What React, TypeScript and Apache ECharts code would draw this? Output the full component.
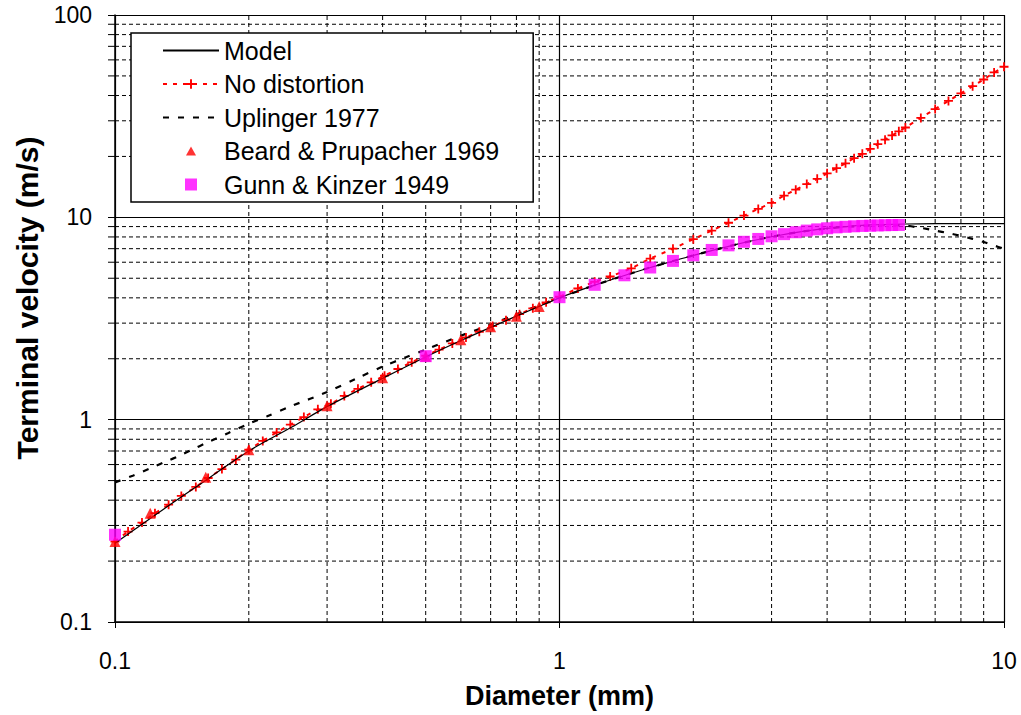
import React, { useEffect, useRef } from "react";
import * as echarts from "echarts";

// Model (solid black)
const modelD = [0.1, 0.12, 0.15, 0.2, 0.25, 0.3, 0.4, 0.5, 0.6, 0.7, 0.8, 0.9, 1, 1.2, 1.4, 1.6, 1.8, 2, 2.5, 3, 3.5, 4, 4.5, 5, 6, 7, 8, 10];
const modelV = [0.245, 0.325, 0.455, 0.7, 0.92, 1.16, 1.6, 2.04, 2.46, 2.86, 3.25, 3.63, 4.0, 4.62, 5.16, 5.65, 6.08, 6.48, 7.35, 8.02, 8.5, 8.82, 9.03, 9.17, 9.27, 9.3, 9.3, 9.3];

// No distortion (red dashed with + markers)
const noDistD = [0.1, 0.107, 0.115, 0.123, 0.132, 0.141, 0.152, 0.162, 0.174, 0.187, 0.2, 0.215, 0.231, 0.248, 0.266, 0.286, 0.306, 0.328, 0.352, 0.377, 0.404, 0.433, 0.465, 0.5, 0.536, 0.574, 0.616, 0.66, 0.707, 0.758, 0.813, 0.871, 0.933, 1.0, 1.1, 1.2, 1.3, 1.45, 1.6, 1.8, 2.0, 2.2, 2.4, 2.6, 2.8, 3.0, 3.2, 3.4, 3.6, 3.8, 4.0, 4.2, 4.4, 4.6, 4.8, 5.0, 5.2, 5.4, 5.6, 5.8, 6.0, 6.5, 7.0, 7.5, 8.0, 8.5, 9.0, 9.5, 10];
const noDistV = [0.25, 0.28, 0.31, 0.345, 0.38, 0.42, 0.465, 0.515, 0.57, 0.635, 0.71, 0.785, 0.865, 0.945, 1.03, 1.125, 1.2, 1.31, 1.42, 1.53, 1.65, 1.78, 1.92, 2.07, 2.22, 2.38, 2.55, 2.72, 2.9, 3.1, 3.32, 3.55, 3.8, 4.05, 4.45, 4.8, 5.1, 5.6, 6.25, 7.0, 7.8, 8.6, 9.4, 10.2, 11.0, 11.8, 12.8, 13.7, 14.6, 15.5, 16.5, 17.5, 18.5, 19.6, 20.6, 21.8, 23.0, 24.2, 25.4, 26.6, 27.8, 31, 34.3, 37.6, 41, 44.5, 48, 52, 55.5];

// Uplinger 1977 (black dashed)
const uplD = [0.1, 0.11, 0.12, 0.13, 0.14, 0.15, 0.16, 0.18, 0.2, 0.22, 0.25, 0.3, 0.35, 0.4, 0.45, 0.5, 0.6, 0.7, 0.8, 0.9, 1, 1.2, 1.4, 1.6, 1.8, 2, 2.5, 3, 3.5, 4, 4.5, 5, 5.5, 6, 6.5, 7, 7.5, 8, 8.5, 9, 9.5, 10];
const uplV = [0.49, 0.53, 0.575, 0.62, 0.665, 0.715, 0.765, 0.86, 0.955, 1.04, 1.17, 1.37, 1.6, 1.83, 2.03, 2.22, 2.6, 2.95, 3.32, 3.67, 4.0, 4.62, 5.16, 5.65, 6.08, 6.48, 7.35, 8.02, 8.5, 8.82, 9.0, 9.1, 9.15, 9.1, 8.87, 8.6, 8.35, 8.1, 7.82, 7.55, 7.25, 7.0];

// Beard & Prupacher 1969 (red triangles)
const beardD = [0.1, 0.12, 0.16, 0.2, 0.3, 0.4, 0.5, 0.6, 0.7, 0.8, 0.9];
const beardV = [0.25, 0.345, 0.52, 0.71, 1.17, 1.61, 2.06, 2.48, 2.88, 3.24, 3.62];

// Gunn & Kinzer 1949 (magenta squares)
const gunnD = [0.1, 0.5, 1.0, 1.2, 1.4, 1.6, 1.8, 2.0, 2.2, 2.4, 2.6, 2.8, 3.0, 3.2, 3.4, 3.6, 3.8, 4.0, 4.2, 4.4, 4.6, 4.8, 5.0, 5.2, 5.4, 5.6, 5.8];
const gunnV = [0.27, 2.06, 4.03, 4.64, 5.17, 5.65, 6.09, 6.49, 6.9, 7.27, 7.57, 7.82, 8.06, 8.26, 8.44, 8.6, 8.72, 8.83, 8.92, 8.98, 9.03, 9.07, 9.09, 9.12, 9.14, 9.16, 9.17];

// Minor grid positions
const xMinor = [0.2, 0.3, 0.4, 0.5, 0.6, 0.7, 0.8, 0.9, 2, 3, 4, 5, 6, 7, 8, 9];
const yMinor = [0.2, 0.3, 0.4, 0.5, 0.6, 0.7, 0.8, 0.9, 2, 3, 4, 5, 6, 7, 8, 9, 20, 30, 40, 50, 60, 70, 80, 90];

const FONT = "'Liberation Sans', Arial, Helvetica, sans-serif";
const PLUS = "path://M4,0H6V4H10V6H6V10H4V6H0V4H4Z";
// legend icons with a 56x12 bounding box so they are not stretched
const LEG_TRI = "path://M0,0M56,12M28,1.5L33,10.5L23,10.5Z";
const LEG_SQ = "path://M0,0M56,12M22,0L34,0L34,12L22,12Z";

const zip = (a: number[], b: number[]) => a.map((d, i) => [d, b[i]]);

export default function App() {
  const ref = useRef<HTMLDivElement>(null);
  useEffect(() => {
    const chart = echarts.init(ref.current!, null, { renderer: "svg" });
    const option: any = {
      animation: false,
      backgroundColor: "#fff",
      grid: { left: 115, right: 17, top: 15, bottom: 93 },
      legend: {
        data: [
          { name: "Model" },
          { name: "No distortion" },
          { name: "Uplinger 1977" },
          { name: "Beard & Prupacher 1969", icon: LEG_TRI },
          { name: "Gunn & Kinzer 1949", icon: LEG_SQ },
        ],
        orient: "vertical",
        left: 131,
        top: 33,
        itemWidth: 56,
        itemHeight: 12,
        itemGap: 8.5,
        padding: [5, 34, 5, 31],
        backgroundColor: "#fff",
        borderColor: "#000",
        borderWidth: 1.5,
        selectedMode: false,
        textStyle: { fontSize: 25, fontFamily: FONT, color: "#000", lineHeight: 25 },
      },
      graphic: [
        {
          type: "text",
          x: 27,
          y: 298,
          rotation: Math.PI / 2,
          silent: true,
          style: {
            text: "Terminal velocity (m/s)",
            font: "bold 30px 'Liberation Sans', Arial, sans-serif",
            fill: "#000",
            textAlign: "center",
            textVerticalAlign: "middle",
          },
        },
      ],
      xAxis: {
        type: "log",
        logBase: 10,
        min: 0.1,
        max: 10,
        name: "Diameter (mm)",
        nameLocation: "middle",
        nameGap: 60,
        nameTextStyle: { fontSize: 27, fontWeight: "bold", fontFamily: FONT, color: "#000" },
        axisLine: { show: true, lineStyle: { color: "#000", width: 1.5 } },
        axisTick: { show: true, length: 6, lineStyle: { color: "#000" } },
        axisLabel: { fontSize: 23, fontFamily: FONT, color: "#000", margin: 27 },
        splitLine: { show: true, lineStyle: { color: "#000", width: 1.2, type: "solid" } },
      },
      yAxis: {
        type: "log",
        logBase: 10,
        min: 0.1,
        max: 100,
        axisLine: { show: true, lineStyle: { color: "#000", width: 1.5 } },
        axisTick: { show: true, length: 7, lineStyle: { color: "#000" } },
        axisLabel: { fontSize: 23, fontFamily: FONT, color: "#000", margin: 23 },
        splitLine: { show: true, lineStyle: { color: "#000", width: 1.2, type: "solid" } },
      },
      series: [
        {
          type: "custom",
          name: "xMinorGrid",
          z: 1,
          silent: true,
          data: xMinor.map((v) => [v, 1]),
          renderItem: (_p: any, api: any) => {
            const v = api.value(0);
            const a = api.coord([v, 0.1]);
            const b = api.coord([v, 100]);
            return {
              type: "line",
              shape: { x1: a[0], y1: a[1], x2: b[0], y2: b[1] },
              style: { stroke: "#000", lineWidth: 1, lineDash: [4, 3] },
            };
          },
        },
        {
          type: "custom",
          name: "yMinorGrid",
          z: 1,
          silent: true,
          data: yMinor.map((v) => [1, v]),
          renderItem: (_p: any, api: any) => {
            const v = api.value(1);
            const a = api.coord([0.1, v]);
            const b = api.coord([10, v]);
            return {
              type: "group",
              children: [
                {
                  type: "line",
                  shape: { x1: a[0], y1: a[1], x2: b[0], y2: b[1] },
                  style: { stroke: "#000", lineWidth: 1, lineDash: [4, 3] },
                },
                {
                  type: "line",
                  shape: { x1: a[0] - 7, y1: a[1], x2: a[0], y2: a[1] },
                  style: { stroke: "#000", lineWidth: 1 },
                },
              ],
            };
          },
        },
        {
          type: "line",
          name: "Uplinger 1977",
          z: 3,
          data: zip(uplD, uplV),
          showSymbol: false,
          symbol: "circle",
          smooth: 0.3,
          itemStyle: { color: "rgba(0,0,0,0)" },
          lineStyle: { color: "#000", width: 2.2, type: [6, 9] },
        },
        {
          type: "line",
          name: "No distortion",
          z: 4,
          data: zip(noDistD, noDistV),
          symbol: PLUS,
          symbolSize: 9,
          showSymbol: true,
          smooth: 0.3,
          itemStyle: { color: "#ff0000" },
          lineStyle: { color: "#ff0000", width: 2, type: [4, 6] },
        },
        {
          type: "line",
          name: "Model",
          z: 5,
          data: zip(modelD, modelV),
          showSymbol: false,
          symbol: "circle",
          smooth: 0.3,
          itemStyle: { color: "rgba(0,0,0,0)" },
          lineStyle: { color: "#000", width: 1.2, type: "solid" },
        },
        {
          type: "scatter",
          name: "Beard & Prupacher 1969",
          z: 6,
          data: zip(beardD, beardV),
          symbol: "triangle",
          symbolSize: 11,
          itemStyle: { color: "#ff0000" },
        },
        {
          type: "scatter",
          name: "Gunn & Kinzer 1949",
          z: 7,
          data: zip(gunnD, gunnV),
          symbol: "rect",
          symbolSize: 12,
          itemStyle: { color: "#ff00ff" },
        },
      ],
    };
    chart.setOption(option);
    return () => chart.dispose();
  }, []);
  return <div ref={ref} style={{ position: "fixed", left: 0, top: 0, width: 1021, height: 715 }} />;
}
